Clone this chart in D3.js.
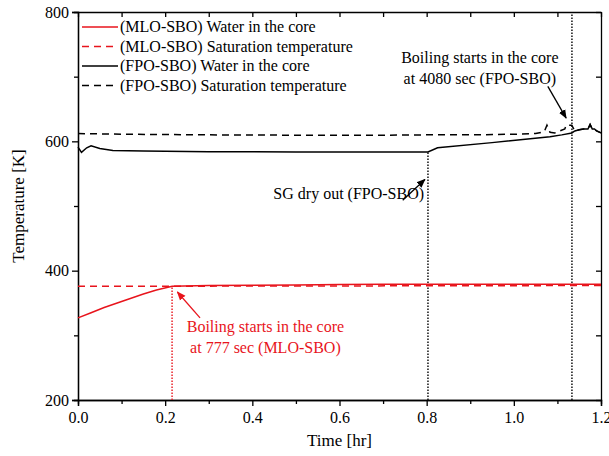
<!DOCTYPE html>
<html>
<head>
<meta charset="utf-8">
<script src="https://cdn.jsdelivr.net/npm/d3@7"></script>
<style>
  body { margin: 0; background: #fff; }
  svg text { font-family: "Liberation Serif", "Times New Roman", serif; }
  .axis path, .axis line { stroke: #000; stroke-width: 1.3; }
  .axis text { font-size: 16px; fill: #000; }
</style>
</head>
<body>
<svg id="chart" width="609" height="456"></svg>
<script>
// data (time in hr, temperature in K)
var mloWaterTime = [0, 0.03, 0.06, 0.09, 0.12, 0.15, 0.18, 0.216, 0.3, 0.4, 0.5, 0.6, 0.7, 0.8, 0.9, 1.0, 1.1, 1.2];
var mloWaterTemp = [327, 335, 343, 350, 357, 364, 370, 376, 377, 377.5, 378, 378.5, 379, 379, 379, 379, 379, 379];

var mloSatTime = [0, 0.216, 1.2];
var mloSatTemp = [376, 376, 377];

var fpoWaterTime = [0, 0.008, 0.02, 0.03, 0.05, 0.08, 0.15, 0.3, 0.5, 0.7, 0.803, 0.825, 0.95, 1.083, 1.11, 1.133, 1.14, 1.15, 1.16, 1.17, 1.175, 1.18, 1.185, 1.19, 1.2];
var fpoWaterTemp = [591, 583, 590, 593, 589, 586, 585, 584, 583.5, 583.5, 583.5, 590, 598, 607, 610, 613, 616, 618, 619, 619, 626, 619, 619, 616, 613];

var fpoSatTime = [0, 0.1, 0.3, 0.5, 0.7, 0.8, 0.9, 1.0, 1.05, 1.07, 1.076, 1.083, 1.094, 1.117, 1.12, 1.133, 1.14, 1.15, 1.16, 1.17, 1.175, 1.18, 1.185, 1.19, 1.2];
var fpoSatTemp = [612, 611, 610, 609.5, 609.5, 610, 610, 611, 612, 615, 625, 614, 613, 619, 625, 625, 616, 618, 619, 619, 626, 619, 619, 616, 613];

var xTicks = [0, 0.2, 0.4, 0.6, 0.8, 1.0, 1.2];
var yTicks = [200, 400, 600, 800];

var mloBoilTime = 777 / 3600;
var fpoDryTime = 0.803;
var fpoBoilTime = 4080 / 3600;

var width = 609, height = 456;
var margin = { left: 78, right: 8, top: 12, bottom: 56 };
var serif = '"Liberation Serif", "Times New Roman", serif';

var svg = d3.select('#chart');

var x = d3.scaleLinear().domain([0, 1.2]).range([margin.left, width - margin.right]);
var y = d3.scaleLinear().domain([200, 800]).range([height - margin.bottom, margin.top]);

var minorX = d3.range(0.1, 1.2, 0.2);
var minorY = [300, 500, 700];

// axes
svg.append('g').attr('class', 'axis')
    .attr('transform', `translate(0 ${y(200)})`)
    .call(d3.axisBottom(x).tickValues(xTicks).tickFormat(d3.format('.1f')).tickSize(6).tickPadding(6));
svg.append('g').attr('class', 'axis')
    .attr('transform', `translate(0 ${y(200)})`)
    .call(d3.axisBottom(x).tickValues(minorX).tickFormat('').tickSize(4));
svg.append('g').attr('class', 'axis')
    .attr('transform', `translate(${x(0)} 0)`)
    .call(d3.axisLeft(y).tickValues(yTicks).tickSize(6).tickPadding(3));
svg.append('g').attr('class', 'axis')
    .attr('transform', `translate(${x(0)} 0)`)
    .call(d3.axisLeft(y).tickValues(minorY).tickFormat('').tickSize(4));
svg.append('g').attr('class', 'axis')
    .attr('transform', `translate(0 ${y(800)})`)
    .call(d3.axisTop(x).tickValues(xTicks.concat(minorX)).tickFormat('').tickSizeInner(-5).tickSizeOuter(0));
svg.append('g').attr('class', 'axis')
    .attr('transform', `translate(${x(1.2)} 0)`)
    .call(d3.axisRight(y).tickValues(yTicks.concat(minorY)).tickFormat('').tickSizeInner(-5).tickSizeOuter(0));

svg.selectAll('.axis').attr('font-family', serif);

// axis titles
svg.append('text')
    .attr('x', x(0.6)).attr('y', 446)
    .attr('text-anchor', 'middle')
    .attr('font-size', 17)
    .text('Time [hr]');
svg.append('text')
    .attr('transform', `translate(24 ${y(500)}) rotate(-90)`)
    .attr('text-anchor', 'middle')
    .attr('font-size', 17)
    .text('Temperature [K]');

// markers
var defs = svg.append('defs');
[['arrowBlack', '#000'], ['arrowRed', '#e8141c']].forEach(d => {
    defs.append('marker')
        .attr('id', d[0])
        .attr('viewBox', '0 0 10 10')
        .attr('refX', 9).attr('refY', 5)
        .attr('markerWidth', 9).attr('markerHeight', 9)
        .attr('markerUnits', 'userSpaceOnUse')
        .attr('orient', 'auto')
        .append('path')
        .attr('d', 'M0,1 L10,5 L0,9 z')
        .attr('fill', d[1]);
});

var red = '#e8141c';

var line = d3.line()
    .x(d => x(d[0]))
    .y(d => y(d[1]));

function pairs(t, v) { return t.map((d, i) => [d, v[i]]); }

var series = [
    { name: '(MLO-SBO) Saturation temperature', t: mloSatTime, v: mloSatTemp, color: red, dash: '7,5' },
    { name: '(FPO-SBO) Saturation temperature', t: fpoSatTime, v: fpoSatTemp, color: '#000', dash: '7,5' },
    { name: '(MLO-SBO) Water in the core', t: mloWaterTime, v: mloWaterTemp, color: red, dash: null },
    { name: '(FPO-SBO) Water in the core', t: fpoWaterTime, v: fpoWaterTemp, color: '#000', dash: null }
];

// vertical dotted lines
var vlines = [
    { t: mloBoilTime, top: 376, color: red },
    { t: fpoDryTime, top: 583.5, color: '#000' },
    { t: fpoBoilTime, top: 800, color: '#000' }
];
svg.selectAll('.vline').data(vlines).enter().append('line')
    .attr('x1', d => x(d.t)).attr('x2', d => x(d.t))
    .attr('y1', y(200)).attr('y2', d => y(d.top))
    .attr('stroke', d => d.color)
    .attr('stroke-width', 1.4)
    .attr('stroke-dasharray', '1.5,1.5');

svg.selectAll('.series').data(series).enter().append('path')
    .attr('d', d => line(pairs(d.t, d.v)))
    .attr('fill', 'none')
    .attr('stroke', d => d.color)
    .attr('stroke-width', 1.5)
    .attr('stroke-dasharray', d => d.dash);

// legend
var legendOrder = [series[2], series[0], series[3], series[1]];
var legend = svg.append('g');
legendOrder.forEach((d, i) => {
    var ly = 27 + i * 19.5;
    legend.append('line')
        .attr('x1', 82).attr('x2', 118)
        .attr('y1', ly).attr('y2', ly)
        .attr('stroke', d.color)
        .attr('stroke-width', 1.5)
        .attr('stroke-dasharray', d.dash);
    legend.append('text')
        .attr('x', 120).attr('y', ly + 5)
        .attr('font-size', 16)
        .text(d.name);
});

// annotations
var notes = [
    { lines: ['SG dry out (FPO-SBO)'], tx: 0.794, ty: 511, anchor: 'end', color: '#000',
      from: [0.745, 509], to: [0.796, 541], marker: 'arrowBlack' },
    { lines: ['Boiling starts in the core', 'at 4080 sec (FPO-SBO)'], tx: 0.922, ty: 721, anchor: 'middle', color: '#000',
      from: [1.078, 685], to: [1.12, 636], marker: 'arrowBlack' },
    { lines: ['Boiling starts in the core', 'at 777 sec (MLO-SBO)'], tx: 0.43, ty: 305, anchor: 'middle', color: red,
      from: [0.28, 327], to: [0.228, 367], marker: 'arrowRed' }
];

notes.forEach(n => {
    var t = svg.append('text')
        .attr('text-anchor', n.anchor)
        .attr('fill', n.color)
        .attr('font-size', 16);
    n.lines.forEach((s, i) => {
        t.append('tspan')
            .attr('x', x(n.tx))
            .attr('y', y(n.ty) + i * 21)
            .text(s);
    });
    svg.append('line')
        .attr('x1', x(n.from[0])).attr('y1', y(n.from[1]))
        .attr('x2', x(n.to[0])).attr('y2', y(n.to[1]))
        .attr('stroke', n.color)
        .attr('stroke-width', 1.3)
        .attr('marker-end', `url(#${n.marker})`);
});
</script>
</body>
</html>
